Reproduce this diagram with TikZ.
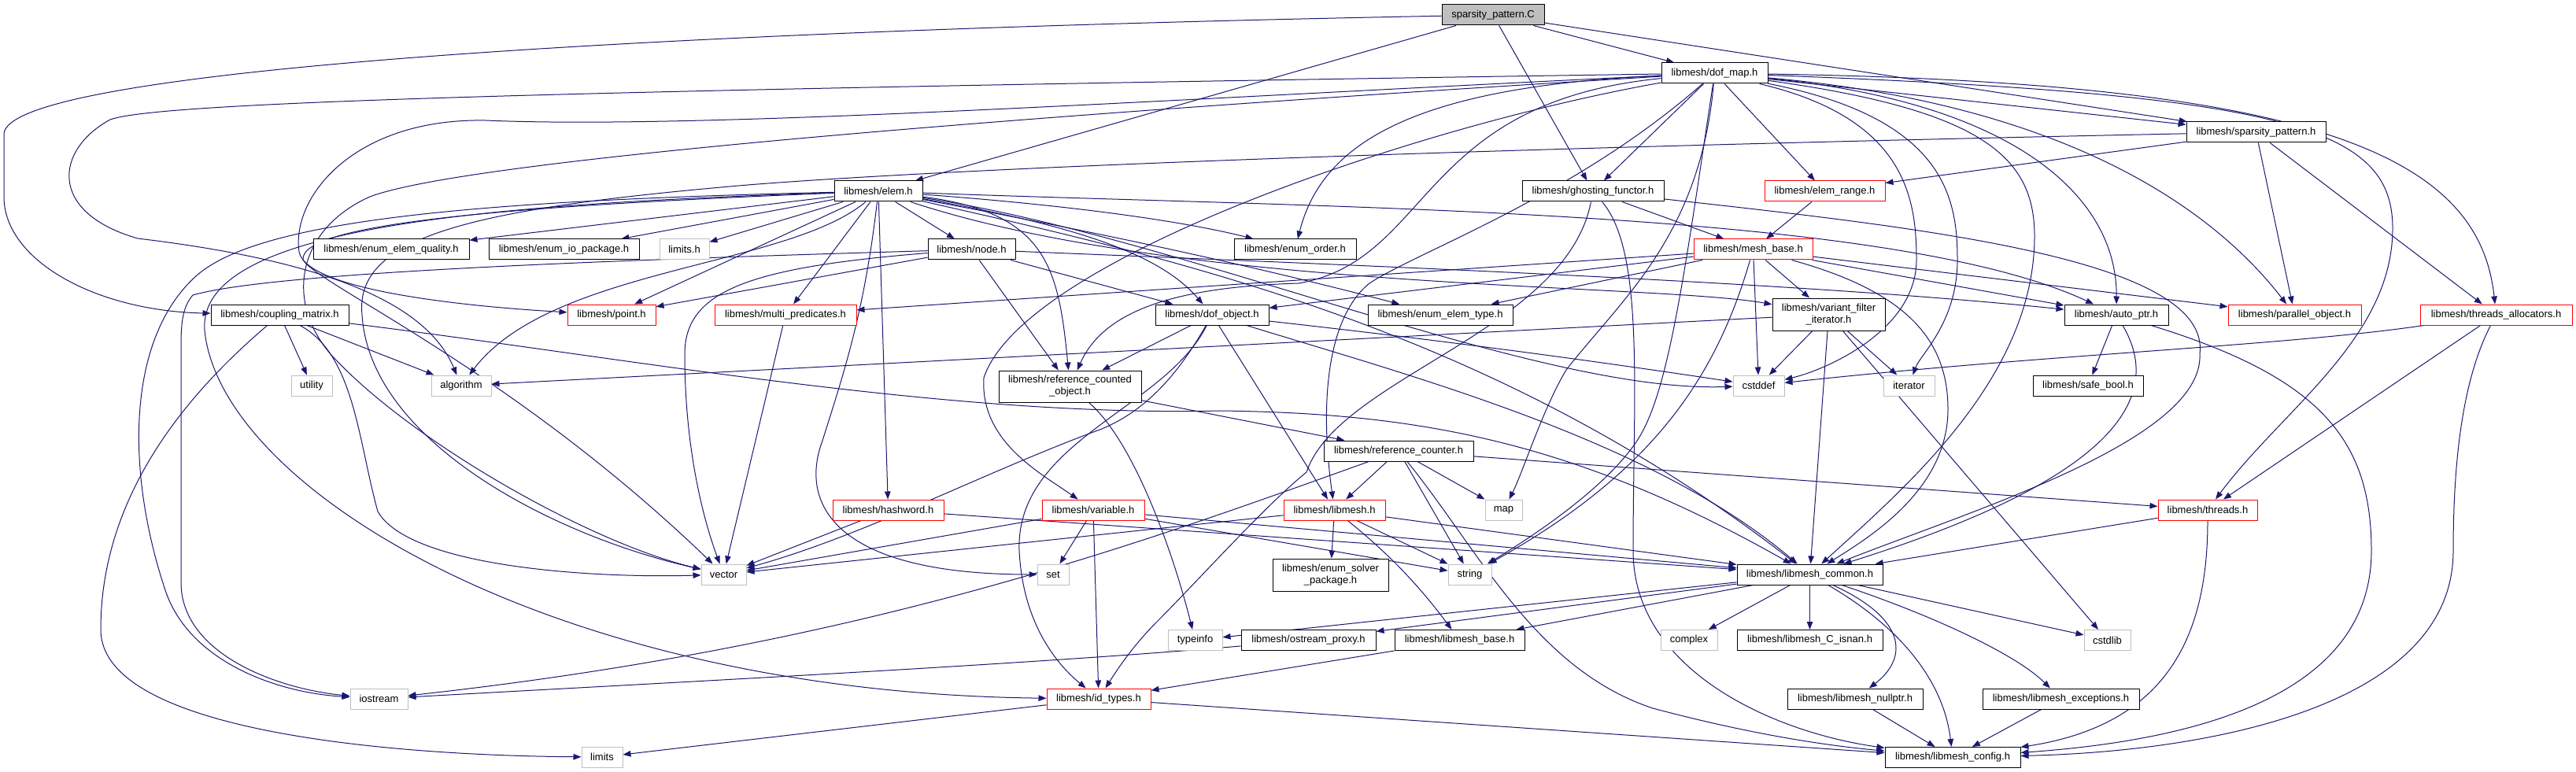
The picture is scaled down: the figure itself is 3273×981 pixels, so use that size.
\documentclass[tikz,border=0pt]{standalone}
\usepackage{fontspec}
\setmainfont{Liberation Sans}
\usetikzlibrary{arrows.meta}
\definecolor{edgec}{HTML}{191970}
\definecolor{grayb}{HTML}{BFBFBF}
\pgfdeclarelayer{bg}
\pgfsetlayers{bg,main}
\tikzset{
 bx/.style={draw=black, line width=1pt, fill=white, minimum height=26pt, inner sep=1pt, font=\fontsize{13}{15}\selectfont, align=center},
 rd/.style={bx, draw=red},
 gy/.style={bx, draw=grayb},
 ed/.style={draw=edgec, line width=1pt, -{Triangle[length=10pt,width=7.5pt]}},
}
\begin{document}
\begin{tikzpicture}[x=1pt,y=-1pt]
\useasboundingbox (0,0) rectangle (3273,981);
% nodes
\node[bx,fill=grayb,minimum width=130pt] (S) at (1897,19) {sparsity\_pattern.C};
\node[bx,minimum width=135pt] (dofmap) at (2178.5,93) {libmesh/dof\_map.h};
\node[bx,minimum width=177pt] (sph) at (2866.5,168) {libmesh/sparsity\_pattern.h};
\node[bx,minimum width=112pt] (elem) at (1116,243) {libmesh/elem.h};
\node[bx,minimum width=180pt] (ghost) at (2024,243) {libmesh/ghosting\_functor.h};
\node[rd,minimum width=153pt] (erange) at (2318.5,243) {libmesh/elem\_range.h};
\node[bx,minimum width=198pt] (eeq) at (497,317) {libmesh/enum\_elem\_quality.h};
\node[bx,minimum width=191pt] (eio) at (716.5,317) {libmesh/enum\_io\_package.h};
\node[gy,minimum width=63pt] (limitsh) at (869.5,317) {limits.h};
\node[bx,minimum width=111pt] (node) at (1234.5,317) {libmesh/node.h};
\node[bx,minimum width=155pt] (eorder) at (1645.5,317) {libmesh/enum\_order.h};
\node[rd,minimum width=151pt] (meshbase) at (2227.5,317) {libmesh/mesh\_base.h};
\node[bx,minimum width=175pt] (coupling) at (355.5,400) {libmesh/coupling\_matrix.h};
\node[rd,minimum width=112pt] (point) at (777,400) {libmesh/point.h};
\node[rd,minimum width=180pt] (multipred) at (998,400) {libmesh/multi\_predicates.h};
\node[bx,minimum width=144pt] (dofobj) at (1540,400) {libmesh/dof\_object.h};
\node[bx,minimum width=184pt] (eetype) at (1830,400) {libmesh/enum\_elem\_type.h};
\node[bx,minimum width=143pt,minimum height=41pt] (vfi) at (2323.5,399.5) {libmesh/variant\_filter\\\_iterator.h};
\node[bx,minimum width=132pt] (autoptr) at (2689,400) {libmesh/auto\_ptr.h};
\node[rd,minimum width=169pt] (parobj) at (2915.5,400) {libmesh/parallel\_object.h};
\node[rd,minimum width=193pt] (thralloc) at (3171.5,400) {libmesh/threads\_allocators.h};
\node[gy,minimum width=52pt] (utility) at (396,490) {utility};
\node[gy,minimum width=76pt] (algorithm) at (586,490) {algorithm};
\node[bx,minimum width=181pt,minimum height=40pt] (rco) at (1359.5,491) {libmesh/reference\_counted\\\_object.h};
\node[gy,minimum width=65pt] (cstddef) at (2234.5,490) {cstddef};
\node[gy,minimum width=65pt] (iterator) at (2425.5,490) {iterator};
\node[bx,minimum width=140pt] (safebool) at (2653,490) {libmesh/safe\_bool.h};
\node[bx,minimum width=190pt] (refcounter) at (1777,573) {libmesh/reference\_counter.h};
\node[rd,minimum width=141pt] (hashword) at (1128.5,648) {libmesh/hashword.h};
\node[rd,minimum width=130pt] (variable) at (1389,648) {libmesh/variable.h};
\node[rd,minimum width=129pt] (libmeshh) at (1695.5,648) {libmesh/libmesh.h};
\node[gy,minimum width=47pt] (map) at (1910.5,648) {map};
\node[rd,minimum width=126pt] (threads) at (2805,648) {libmesh/threads.h};
\node[gy,minimum width=57pt] (vector) at (919.5,730) {vector};
\node[gy,minimum width=40pt] (set) at (1338,730) {set};
\node[bx,minimum width=147pt,minimum height=41pt] (esp) at (1690.5,730.5) {libmesh/enum\_solver\\\_package.h};
\node[gy,minimum width=55pt] (string) at (1867.5,730) {string};
\node[bx,minimum width=185pt] (lcommon) at (2299.5,730) {libmesh/libmesh\_common.h};
\node[gy,minimum width=69pt] (typeinfo) at (1518.5,813.5) {typeinfo};
\node[bx,minimum width=171pt] (ostream) at (1662.5,813.5) {libmesh/ostream\_proxy.h};
\node[bx,minimum width=165pt] (lbase) at (1854.5,813.5) {libmesh/libmesh\_base.h};
\node[gy,minimum width=72pt] (complex) at (2146,813.5) {complex};
\node[bx,minimum width=185pt] (isnan) at (2299.5,813.5) {libmesh/libmesh\_C\_isnan.h};
\node[gy,minimum width=59pt] (cstdlib) at (2677.5,813.5) {cstdlib};
\node[gy,minimum width=73pt] (iostream) at (481.5,888) {iostream};
\node[rd,minimum width=132pt] (idtypes) at (1396,888) {libmesh/id\_types.h};
\node[bx,minimum width=172pt] (nullptr) at (2357,888) {libmesh/libmesh\_nullptr.h};
\node[bx,minimum width=199pt] (exceptions) at (2618.5,888) {libmesh/libmesh\_exceptions.h};
\node[gy,minimum width=52pt] (limits) at (765,962) {limits};
\node[bx,minimum width=172pt] (config) at (2481,962.5) {libmesh/libmesh\_config.h};

\begin{pgfonlayer}{bg}
\fill[white] (0,0) rectangle (3273,981);
% sparsity_pattern.C
\draw[ed] (S) .. controls (800,40) and (10,90) .. (5,170) -- (5,250) .. controls (5,330) and (120,395) .. (coupling);
\draw[ed] (S) -- (elem);
\draw[ed] (S) -- (ghost);
\draw[ed] (S) -- (dofmap);
\draw[ed] (S) -- (sph);
% dof_map
\draw[ed] (dofmap) -- (sph);
\draw[ed] (dofmap) .. controls (2950,105) and (3150,200) .. (thralloc);
\draw[ed] (dofmap) .. controls (2900,120) and (3040,160) .. (3040,290) .. controls (3040,430) and (2900,520) .. (threads);
\draw[ed] (dofmap) .. controls (2600,130) and (2800,250) .. (parobj);
\draw[ed] (dofmap) .. controls (2560,130) and (2690,250) .. (autoptr);
\draw[ed] (dofmap) .. controls (2520,140) and (2585,200) .. (2585,300) .. controls (2585,480) and (2420,620) .. (lcommon);
\draw[ed] (dofmap) .. controls (2420,150) and (2435,250) .. (2435,330) .. controls (2435,420) and (2320,470) .. (cstddef);
\draw[ed] (dofmap) .. controls (2470,150) and (2487,250) .. (2487,330) .. controls (2487,410) and (2440,450) .. (iterator);
\draw[ed] (dofmap) -- (erange);
\draw[ed] (dofmap) -- (ghost);
\draw[ed] (dofmap) .. controls (1800,110) and (1680,180) .. (eorder);
\draw[ed] (dofmap) .. controls (1800,130) and (1820,330) .. (1650,360) .. controls (1480,365) and (1400,400) .. (rco);
\draw[ed] (dofmap) .. controls (1800,160) and (1300,330) .. (1250,480) .. controls (1245,560) and (1320,600) .. (variable);
\draw[ed] (dofmap) .. controls (2000,250) and (1800,320) .. (1740,360) .. controls (1690,400) and (1675,500) .. (libmeshh);
\draw[ed] (dofmap) .. controls (2160,300) and (2060,380) .. (1990,470) .. controls (1960,520) and (1935,600) .. (map);
\draw[ed] (dofmap) .. controls (2140,350) and (2120,500) .. (2080,560) .. controls (2040,620) and (1950,680) .. (string);
\draw[ed] (dofmap) .. controls (700,115) and (200,130) .. (140,152) .. controls (70,190) and (60,270) .. (175,303) .. controls (400,330) and (540,380) .. (algorithm);
\draw[ed] (dofmap) .. controls (1500,125) and (900,165) .. (617,153) .. controls (450,150) and (370,250) .. (380,320) .. controls (390,370) and (600,390) .. (point);
\draw[ed] (dofmap) .. controls (1400,140) and (600,200) .. (470,250) .. controls (380,290) and (360,380) .. (420,450) .. controls (520,560) and (750,690) .. (vector);
% sparsity_pattern.h
\draw[ed] (sph) -- (erange);
\draw[ed] (sph) -- (parobj);
\draw[ed] (sph) -- (thralloc);
\draw[ed] (sph) .. controls (1800,190) and (1200,215) .. (950,235) .. controls (600,265) and (450,300) .. (460,400) .. controls (470,560) and (700,680) .. (vector);
% elem
\draw[ed] (elem) -- (eeq);
\draw[ed] (elem) -- (eio);
\draw[ed] (elem) -- (limitsh);
\draw[ed] (elem) -- (point);
\draw[ed] (elem) -- (multipred);
\draw[ed] (elem) -- (node);
\draw[ed] (elem) .. controls (1350,260) and (1500,280) .. (eorder);
\draw[ed] (elem) .. controls (1390,290) and (1480,330) .. (dofobj);
\draw[ed] (elem) .. controls (1420,300) and (1600,340) .. (eetype);
\draw[ed] (elem) .. controls (1330,270) and (1345,340) .. (rco);
\draw[ed] (elem) -- (hashword);
\draw[ed] (elem) .. controls (1098,400) and (1070,480) .. (1045,560) .. controls (1015,640) and (1060,730) .. (set);
\draw[ed] (elem) .. controls (700,260) and (380,280) .. (385,330) .. controls (400,360) and (650,470) .. (vector);
\draw[ed] (elem) .. controls (1000,340) and (700,340) .. (algorithm);
\draw[ed] (elem) .. controls (600,255) and (330,280) .. (250,350) .. controls (160,430) and (160,600) .. (210,750) .. controls (240,840) and (350,880) .. (iostream);
\draw[ed] (elem) .. controls (1500,330) and (1900,420) .. (lcommon);
\draw[ed] (elem) .. controls (1700,265) and (2400,265) .. (autoptr);
\draw[ed] (elem) .. controls (1500,370) and (2100,360) .. (vfi);
\draw[ed] (elem) .. controls (1500,300) and (1950,500) .. (cstddef);
\draw[ed] (elem) .. controls (600,260) and (250,290) .. (260,420) .. controls (280,620) and (700,880) .. (idtypes);
% ghosting_functor
\draw[ed] (ghost) -- (meshbase);
\draw[ed] (ghost) .. controls (2450,290) and (2810,330) .. (2795,450) .. controls (2800,560) and (2500,650) .. (lcommon);
\draw[ed] (ghost) .. controls (2090,320) and (2075,500) .. (2075,700) .. controls (2075,850) and (2250,930) .. (config);
\draw[ed] (ghost) .. controls (1990,420) and (1700,480) .. (1660,600) .. controls (1610,640) and (1520,740) .. (1470,790) .. controls (1440,820) and (1420,850) .. (idtypes);
% elem_range
\draw[ed] (erange) -- (meshbase);
% node
\draw[ed] (node) -- (point);
\draw[ed] (node) -- (dofobj);
\draw[ed] (node) -- (rco);
\draw[ed] (node) .. controls (1800,340) and (2300,360) .. (autoptr);
\draw[ed] (node) .. controls (950,340) and (870,370) .. (870,450) .. controls (870,560) and (890,650) .. (vector);
\draw[ed] (node) .. controls (800,330) and (350,345) .. (245,375) .. controls (232,390) and (230,410) .. (230,440) -- (230,740) .. controls (230,830) and (350,875) .. (iostream);
% mesh_base
\draw[ed] (meshbase) -- (dofobj);
\draw[ed] (meshbase) -- (eetype);
\draw[ed] (meshbase) -- (multipred);
\draw[ed] (meshbase) -- (vfi);
\draw[ed] (meshbase) -- (autoptr);
\draw[ed] (meshbase) -- (parobj);
\draw[ed] (meshbase) .. controls (2420,370) and (2475,430) .. (2475,520) .. controls (2475,620) and (2380,680) .. (lcommon);
\draw[ed] (meshbase) -- (cstddef);
\draw[ed] (meshbase) .. controls (2180,480) and (2100,600) .. (string);
% coupling_matrix
\draw[ed] (coupling) -- (utility);
\draw[ed] (coupling) -- (algorithm);
\draw[ed] (coupling) .. controls (450,450) and (455,560) .. (480,650) .. controls (520,720) and (750,735) .. (vector);
\draw[ed] (coupling) .. controls (250,490) and (128,620) .. (128,800) .. controls (128,930) and (500,960) .. (limits);
\draw[ed] (coupling) .. controls (800,455) and (1200,530) .. (1550,522) .. controls (1800,525) and (2000,560) .. (lcommon);
% multi_predicates
\draw[ed] (multipred) -- (vector);
% dof_object
\draw[ed] (dofobj) -- (rco);
\draw[ed] (dofobj) .. controls (1480,520) and (1290,560) .. (1295,700) .. controls (1300,800) and (1350,850) .. (idtypes);
\draw[ed] (dofobj) -- (libmeshh);
\draw[ed] (dofobj) .. controls (1500,470) and (1460,520) .. (1400,545) .. controls (1250,600) and (1100,680) .. (vector);
\draw[ed] (dofobj) .. controls (1900,440) and (2100,470) .. (cstddef);
\draw[ed] (dofobj) .. controls (1800,480) and (2100,560) .. (lcommon);
% variant_filter_iterator
\draw[ed] (vfi) -- (algorithm);
\draw[ed] (vfi) -- (cstddef);
\draw[ed] (vfi) -- (iterator);
\draw[ed] (vfi) -- (cstdlib);
\draw[ed] (vfi) -- (lcommon);
% auto_ptr
\draw[ed] (autoptr) -- (safebool);
\draw[ed] (autoptr) .. controls (2760,520) and (2650,620) .. (lcommon);
\draw[ed] (autoptr) .. controls (2950,480) and (3013,560) .. (3013,700) .. controls (3013,880) and (2800,940) .. (config);
% threads_allocators
\draw[ed] (thralloc) .. controls (2900,440) and (2600,450) .. (cstddef);
\draw[ed] (thralloc) -- (threads);
\draw[ed] (thralloc) .. controls (3130,480) and (3117,580) .. (3117,700) .. controls (3117,900) and (2800,955) .. (config);
% reference_counted_object
\draw[ed] (rco) -- (refcounter);
\draw[ed] (rco) .. controls (1440,560) and (1490,700) .. (typeinfo);
% reference_counter
\draw[ed] (refcounter) -- (libmeshh);
\draw[ed] (refcounter) -- (map);
\draw[ed] (refcounter) -- (string);
\draw[ed] (refcounter) .. controls (1880,700) and (1950,850) .. (2100,900) .. controls (2250,940) and (2350,950) .. (config);
\draw[ed] (refcounter) .. controls (1450,690) and (1100,820) .. (iostream);
\draw[ed] (refcounter) -- (threads);
% hashword
\draw[ed] (hashword) -- (vector);
\draw[ed] (hashword) -- (lcommon);
% variable
\draw[ed] (variable) -- (set);
\draw[ed] (variable) -- (idtypes);
\draw[ed] (variable) -- (string);
\draw[ed] (variable) -- (lcommon);
\draw[ed] (variable) -- (vector);
% libmesh.h
\draw[ed] (libmeshh) -- (esp);
\draw[ed] (libmeshh) -- (string);
\draw[ed] (libmeshh) .. controls (1760,700) and (1800,740) .. (lbase);
\draw[ed] (libmeshh) -- (lcommon);
\draw[ed] (libmeshh) -- (vector);
% threads
\draw[ed] (threads) -- (lcommon);
\draw[ed] (threads) .. controls (2805,800) and (2760,920) .. (config);
% libmesh_common
\draw[ed] (lcommon) -- (typeinfo);
\draw[ed] (lcommon) -- (ostream);
\draw[ed] (lcommon) -- (lbase);
\draw[ed] (lcommon) -- (complex);
\draw[ed] (lcommon) -- (isnan);
\draw[ed] (lcommon) -- (cstdlib);
\draw[ed] (lcommon) .. controls (2430,790) and (2420,840) .. (nullptr);
\draw[ed] (lcommon) .. controls (2450,780) and (2560,830) .. (exceptions);
\draw[ed] (lcommon) .. controls (2420,800) and (2470,870) .. (config);
% others
\draw[ed] (ostream) .. controls (1300,845) and (800,870) .. (iostream);
\draw[ed] (lbase) -- (idtypes);
\draw[ed] (idtypes) -- (limits);
\draw[ed] (idtypes) -- (config);
\draw[ed] (nullptr) -- (config);
\draw[ed] (exceptions) -- (config);
\end{pgfonlayer}
\end{tikzpicture}
\end{document}
